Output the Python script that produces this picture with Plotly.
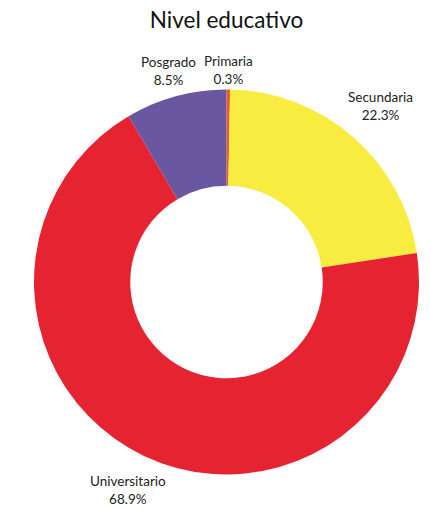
import math
import plotly.graph_objects as go

labels = ["Primaria", "Secundaria", "Universitario", "Posgrado"]
values = [0.3, 22.3, 68.9, 8.5]
colors = ["#F05A28", "#F8EC40", "#E62330", "#6A57A2"]

W, H = 431, 509
ML, MR, MT, MB = 34, 12, 89, 34
PW, PH = W - ML - MR, H - MT - MB
radius_px = min(PW, PH) / 2
label_gap = 19
char_w = 6.75

fig = go.Figure(go.Pie(
    labels=labels,
    values=values,
    hole=0.5,
    sort=False,
    direction="clockwise",
    rotation=0,
    marker=dict(colors=colors, line=dict(width=0)),
    textinfo="none",
    showlegend=False,
    automargin=False,
))

total = sum(values)
cum = 0.0
for lab, v in zip(labels, values):
    mid = (cum + v / 2) / total
    cum += v
    theta = 2 * math.pi * mid
    text_w = char_w * len(lab)
    r_lab = radius_px + label_gap + (text_w / 2) * abs(math.sin(theta))
    x = 0.5 + r_lab * math.sin(theta) / PW
    y = 0.5 + r_lab * math.cos(theta) / PH
    fig.add_annotation(
        x=x, y=y, xref="paper", yref="paper",
        text=f"{lab}<br>{v / total * 100:.1f}%", borderpad=0,
        showarrow=False, xanchor="center", yanchor="middle", align="center",
        font=dict(size=13.5, color="#222222", family="Lato"),
    )

fig.update_layout(
    width=W,
    height=H,
    paper_bgcolor="white",
    plot_bgcolor="white",
    title=dict(text="Nivel educativo", x=0.5, xref="paper", xanchor="center",
               y=1 - 20 / H, yanchor="middle",
               font=dict(size=22.5, color="#111111", family="Lato")),
    margin=dict(l=ML, r=MR, t=MT, b=MB),
    font=dict(family="Lato"),
)

fig.write_html("out.html", config={"displayModeBar": False},
               post_script="document.body.style.margin='0';")
